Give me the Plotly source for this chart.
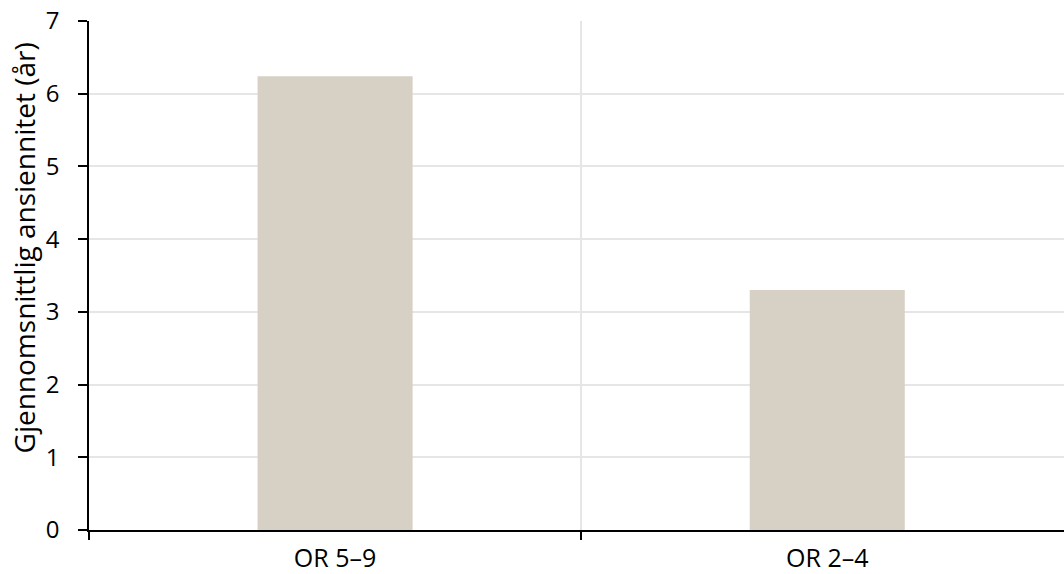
import plotly.graph_objects as go

categories = ["OR 5–9", "OR 2–4"]
seniority_years = [6.24, 3.30]
y_tick_values = [0, 1, 2, 3, 4, 5, 6, 7]
y_title = "Gjennomsnittlig ansiennitet (år)"

FONT = "Open Sans"
BAR_COLOR = "#D7D0C4"
GRID_COLOR = "#E6E6E6"

fig = go.Figure()
fig.add_trace(go.Bar(
    x=categories,
    y=seniority_years,
    width=0.315,
    marker=dict(color=BAR_COLOR, line=dict(width=0)),
    hoverinfo="x+y",
))

x_range = [-0.5, 1.481]

# Vertical axis title placed as a rotated annotation left of the tick labels
fig.add_annotation(
    text=y_title,
    xref="paper", yref="paper",
    x=-0.0667, y=0.555,
    xanchor="center", yanchor="middle",
    textangle=-90,
    showarrow=False,
    font=dict(size=28, family=FONT, color="black"),
)

fig.update_layout(
    width=1064,
    height=574,
    margin=dict(l=89, r=0, t=21, b=41, pad=0),
    paper_bgcolor="white",
    plot_bgcolor="white",
    showlegend=False,
    font=dict(family=FONT, color="black", size=24),
    xaxis=dict(
        type="category",
        range=x_range,
        tickson="boundaries",
        ticks="outside",
        ticklen=8,
        tickwidth=1.5,
        tickcolor="black",
        showline=True,
        linecolor="black",
        linewidth=1.5,
        showgrid=True,
        gridcolor=GRID_COLOR,
        gridwidth=1.5,
        tickfont=dict(size=25, family=FONT),
        ticklabelstandoff=5,
    ),
    xaxis2=dict(
        overlaying="x",
        range=x_range,
        tickvals=[-0.5, 0.5],
        ticks="inside",
        ticklen=8,
        tickwidth=1.5,
        tickcolor="black",
        showticklabels=False,
        showgrid=False,
        zeroline=False,
        showline=False,
        anchor="y",
        side="bottom",
    ),
    yaxis=dict(
        range=[0, 7],
        tickvals=y_tick_values,
        ticks="outside",
        ticklen=9,
        tickwidth=1.5,
        tickcolor="black",
        showline=True,
        linecolor="black",
        linewidth=1.5,
        showgrid=True,
        gridcolor=GRID_COLOR,
        gridwidth=1.5,
        zeroline=False,
        tickfont=dict(size=24, family=FONT),
        ticklabelstandoff=14,
    ),
    yaxis2=dict(
        overlaying="y",
        range=[0, 7],
        tickvals=y_tick_values,
        ticks="inside",
        ticklen=9,
        tickwidth=1.5,
        tickcolor="black",
        showticklabels=False,
        showgrid=False,
        zeroline=False,
        showline=False,
        anchor="x",
        side="left",
    ),
)

fig.write_html("out.html")
